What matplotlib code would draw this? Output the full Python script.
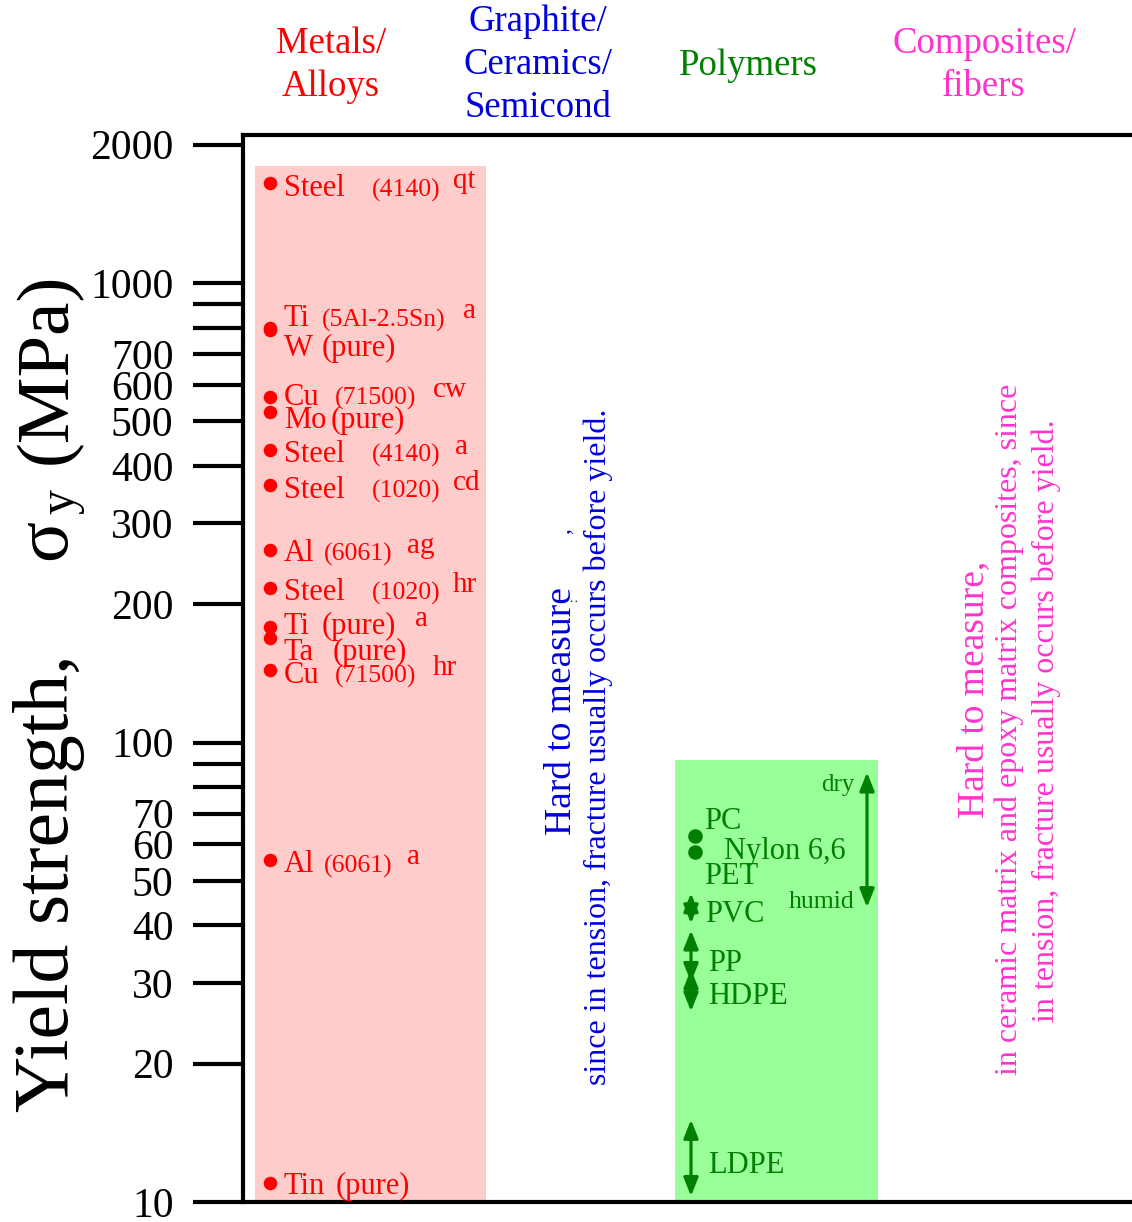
import numpy as np
import matplotlib
matplotlib.use("Agg")
import matplotlib.pyplot as plt
from matplotlib.ticker import FixedLocator, FixedFormatter, NullLocator

plt.rcParams['font.family'] = ['Liberation Serif', 'DejaVu Serif']

W, H = 1132, 1222

# ---------------- data ----------------
metal_names = ["Steel", "Ti", "W", "Cu", "Mo", "Steel", "Steel", "Al",
               "Steel", "Ti", "Ta", "Cu", "Al", "Tin"]
metal_specs = ["(4140)", "(5Al-2.5Sn)", "(pure)", "(71500)", "(pure)", "(4140)",
               "(1020)", "(6061)", "(1020)", "(pure)", "(pure)", "(71500)",
               "(6061)", "(pure)"]
metal_conds = ["qt", "a", "", "cw", "", "a", "cd", "ag", "hr", "a", "", "hr", "a", ""]
metal_strength = [1650, 798, 790, 565, 524, 434, 364, 263, 217, 178, 169, 144, 55.4, 11.0]

metals_band_top = 1800
polymers_band_top = 91.4

polymer_point_names = ["PC", "PET"]
polymer_point_values = [62.5, 57.7]

polymer_range_names = ["PVC", "PP", "HDPE", "LDPE"]
polymer_range_low = [40.4, 30.1, 26.0, 10.3]
polymer_range_high = [47.0, 39.0, 32.1, 15.1]

nylon_name = "Nylon 6,6"
nylon_low, nylon_high = 43.8, 86.1   # humid ... dry

ytick_values = [10, 20, 30, 40, 50, 60, 70, 80, 90, 100,
                200, 300, 400, 500, 600, 700, 800, 900, 1000, 2000]
ytick_labels = ["10", "20", "30", "40", "50", "60", "70", "", "", "100",
                "200", "300", "400", "500", "600", "700", "", "", "1000", "2000"]

# ---------------- layout (pixels) ----------------
metal_label_dy = [13, -2, 26, 8, 16, 12, 13, 11, 12, 7, 22, 13, 12, 11]
metal_spec_x = [372, 322, 322, 335, 331, 372, 372, 324, 372, 322, 333, 335, 324, 336]
metal_cond_x = [453, 463, 0, 433, 0, 455, 453, 407, 453, 415, 0, 433, 407, 0]

RED = "#FF0000"
BLUE = "#0000DD"
GREEN = "#008000"
MAGENTA = "#FF33CC"
PINK = "#FFCCCC"
LGREEN = "#99FF99"

fig = plt.figure(figsize=(W / 100, H / 100), dpi=100)
ax_left, ax_right, ax_top, ax_bot = 243, 1132, 135, 1202
ax = fig.add_axes([ax_left / W, 1 - ax_bot / H, (ax_right - ax_left) / W, (ax_bot - ax_top) / H])
ax.set_yscale("log")
ax.set_ylim(10, 2100)
ax.set_xlim(ax_left, ax_right)   # x in pixel-like layout units

for s in ["left", "top", "bottom"]:
    ax.spines[s].set_linewidth(3.0)
ax.spines["right"].set_visible(False)
ax.set_xticks([])
ax.yaxis.set_major_locator(FixedLocator(ytick_values))
ax.yaxis.set_major_formatter(FixedFormatter(ytick_labels))
ax.yaxis.set_minor_locator(NullLocator())
ax.tick_params(axis="y", direction="out", length=36, width=3, pad=14, labelsize=30)

# bands
metal_col_x, metal_col_w = 370.5, 231
poly_col_x, poly_col_w = 776.5, 203
ax.bar([metal_col_x], [metals_band_top - 10], bottom=10, width=metal_col_w,
       color=PINK, zorder=1)
ax.bar([poly_col_x], [polymers_band_top - 10], bottom=10, width=poly_col_w,
       color=LGREEN, zorder=1)

# metals
metal_dot_x = 270
ax.scatter([metal_dot_x] * len(metal_strength), metal_strength, s=95, color=RED,
           zorder=3, clip_on=False, linewidths=0)
for i, (nm, sp, cd, v) in enumerate(zip(metal_names, metal_specs, metal_conds, metal_strength)):
    dy = metal_label_dy[i]
    ax.annotate(nm, xy=(metal_dot_x, v), xytext=(284 - metal_dot_x, -dy),
                textcoords="offset pixels", ha="left", va="baseline",
                color=RED, fontsize=22, zorder=4)
    spsize = 22 if sp == "(pure)" else 18.5
    ax.annotate(sp, xy=(metal_dot_x, v), xytext=(metal_spec_x[i] - metal_dot_x, -dy),
                textcoords="offset pixels", ha="left", va="baseline",
                color=RED, fontsize=spsize, zorder=4)
    if cd:
        ax.annotate(cd, xy=(metal_dot_x, v), xytext=(metal_cond_x[i] - metal_dot_x, -dy + 8),
                    textcoords="offset pixels", ha="left", va="baseline",
                    color=RED, fontsize=21, zorder=4)

# polymers
poly_dot_x = 695
ax.scatter([poly_dot_x] * len(polymer_point_values), polymer_point_values, s=110,
           color=GREEN, zorder=3, linewidths=0)
ax.annotate(polymer_point_names[0], xy=(poly_dot_x, polymer_point_values[0]),
            xytext=(704 - poly_dot_x, 7), textcoords="offset pixels",
            ha="left", va="baseline", color=GREEN, fontsize=22)
ax.annotate(polymer_point_names[1], xy=(poly_dot_x, polymer_point_values[1]),
            xytext=(704 - poly_dot_x, -32), textcoords="offset pixels",
            ha="left", va="baseline", color=GREEN, fontsize=22)
ax.annotate(nylon_name, xy=(poly_dot_x, polymer_point_values[1]),
            xytext=(724 - poly_dot_x, -7), textcoords="offset pixels",
            ha="left", va="baseline", color=GREEN, fontsize=22)

arrow_x = 691
astyle = dict(arrowstyle="<|-|>,head_length=0.55,head_width=0.22", color=GREEN,
              lw=2.3, shrinkA=0, shrinkB=0, mutation_scale=20)
for nm, lo, hi in zip(polymer_range_names, polymer_range_low, polymer_range_high):
    ax.annotate("", xy=(arrow_x, hi), xytext=(arrow_x, lo), arrowprops=astyle,
                annotation_clip=False)
poly_label_dy = [14, 15, 14, 15]
poly_label_x = [705, 708, 708, 708]
for nm, lo, hi, dy, lx in zip(polymer_range_names, polymer_range_low, polymer_range_high,
                              poly_label_dy, poly_label_x):
    mid = np.sqrt(lo * hi)
    ax.annotate(nm, xy=(arrow_x, mid), xytext=(lx - arrow_x, -dy),
                textcoords="offset pixels", ha="left", va="baseline",
                color=GREEN, fontsize=22)

nylon_x = 867
ax.annotate("", xy=(nylon_x, nylon_high), xytext=(nylon_x, nylon_low), arrowprops=astyle)
ax.annotate("dry", xy=(nylon_x, nylon_high), xytext=(855 - nylon_x, -19),
            textcoords="offset pixels", ha="right", va="baseline",
            color=GREEN, fontsize=18)
ax.annotate("humid", xy=(nylon_x, nylon_low), xytext=(855 - nylon_x, -1),
            textcoords="offset pixels", ha="right", va="baseline",
            color=GREEN, fontsize=18.5)


def ft(x, y, s, **kw):
    fig.text(x / W, 1 - y / H, s, **kw)


# headers (y = baseline of the last line)
hdr = dict(fontsize=26.5, ha="center", va="baseline", linespacing=1.33,
           multialignment="center")
ft(331, 96, "Metals/\nAlloys", color=RED, **hdr)
ft(538, 117, "Graphite/\nCeramics/\nSemicond", color=BLUE, **hdr)
ft(748, 75, "Polymers", color=GREEN, **hdr)
ft(984, 96, "Composites/\nfibers", color=MAGENTA, **hdr)

# rotated notes
rot = dict(rotation=90, rotation_mode="anchor", ha="left", va="baseline")
ft(571, 835, "Hard to measure", color=BLUE, fontsize=27, **rot)
ft(569, 534, ",", color=BLUE, fontsize=17, **rot)
ft(577, 601, ":", color="black", fontsize=9, **rot)
ft(606, 1085, "since in tension, fracture usually occurs before yield.",
   color=BLUE, fontsize=23, **rot)

ft(983, 818, "Hard to measure,", color=MAGENTA, fontsize=27, **rot)
ft(1017, 1075, "in ceramic matrix and epoxy matrix composites, since",
   color=MAGENTA, fontsize=23, **rot)
ft(1054, 1022, "in tension, fracture usually occurs before yield.",
   color=MAGENTA, fontsize=23, **rot)

# y-axis label
ft(68, 1112, "Yield strength,", color="black", fontsize=56, **rot)
ft(65, 560, "σ", color="black", fontsize=55, **rot)
ft(73, 514, "y", color="black", fontsize=36, **rot)
ft(66, 464, "(MPa)", color="black", fontsize=54, **rot)

fig.savefig("out.png", dpi=100)
